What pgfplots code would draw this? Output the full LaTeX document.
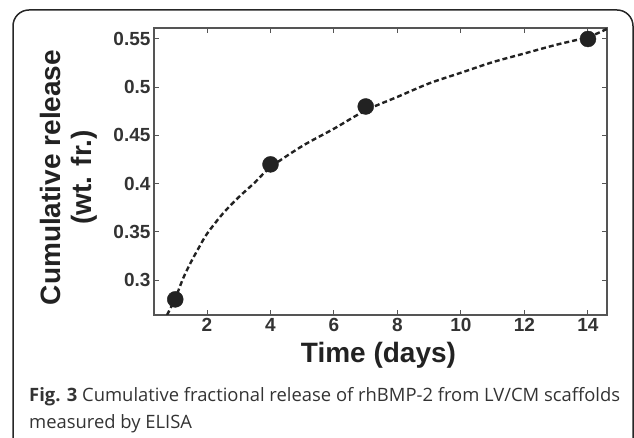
\documentclass[border=0pt]{standalone}
\usepackage{pgfplots}
\pgfplotsset{compat=1.18}
\usepackage{fontspec}
\setmainfont{Liberation Sans}
\newfontfamily\capfont{Open Sans}
\definecolor{axgray}{HTML}{555555}
\definecolor{txtgray}{HTML}{333333}
\definecolor{ink}{HTML}{222222}

\pgfplotstableread{
t y
0.74 0.2638
1.0 0.281
1.25 0.302
1.5 0.319
1.75 0.334
2.0 0.348
2.5 0.369
3.0 0.386
3.5 0.401
4.0 0.417
5.0 0.439
6.0 0.457
7.0 0.476
8.0 0.490
9.0 0.504
10.0 0.515
11.0 0.526
12.0 0.535
13.0 0.544
14.0 0.552
14.6 0.5605
}\fitcurve

\pgfplotstableread{
t y
1 0.28
4 0.42
7 0.48
14 0.55
}\measured

\begin{document}
\begin{tikzpicture}[x=1pt,y=1pt]
\useasboundingbox (0,0) rectangle (634,438);
\begin{scope}
\clip (0,0) rectangle (634,438);
\draw[line width=1.5pt, rounded corners=16pt, color=black!85] (13,-40) rectangle (633,428);
\end{scope}
\begin{axis}[at={(154pt,123pt)}, anchor=south west, scale only axis,
  width=453pt, height=287pt,
  xmin=0.33, xmax=14.6, ymin=0.2638, ymax=0.5614,
  xtick={2,4,6,8,10,12,14}, xticklabels={2,4,6,8,10,12,14},
  ytick={0.3,0.35,0.4,0.45,0.5,0.55}, yticklabels={0.3,0.35,0.4,0.45,0.5,0.55},
  tick align=inside, major tick length=5pt,
  axis line style={axgray, line width=1.3pt},
  tick style={axgray, line width=1pt},
  tick label style={font=\fontsize{19}{19}\selectfont\bfseries, text=txtgray},
  /pgf/number format/assume math mode=true,
  xlabel={Time (days)},
  ylabel={Cumulative release\\(wt. fr.)},
  label style={font=\fontsize{28}{31}\selectfont\bfseries, text=ink},
  xlabel style={at={(axis description cs:0.5,0)}, anchor=base, yshift=-48pt, xshift=-2pt},
  ylabel style={at={(axis description cs:0,0.5)}, anchor=center, align=center, yshift=85pt, xshift=-6pt},
  clip=true,
]
\addplot[ink, line width=2.4pt, dash pattern=on 5pt off 3pt, smooth] table[x=t,y=y] {\fitcurve};
\addplot[only marks, mark=*, mark size=8pt, mark options={fill=ink, draw=ink}] table[x=t,y=y] {\measured};
\end{axis}
\node[anchor=base west, inner sep=0, font=\capfont\fontsize{18.4}{18.4}\selectfont, text=txtgray] at (29,36) {\textbf{Fig. 3} Cumulative fractional release of rhBMP-2 from LV/CM scaffolds};
\node[anchor=base west, inner sep=0, font=\capfont\fontsize{18.4}{18.4}\selectfont, text=txtgray] at (29,9) {measured by ELISA};
\end{tikzpicture}
\end{document}
